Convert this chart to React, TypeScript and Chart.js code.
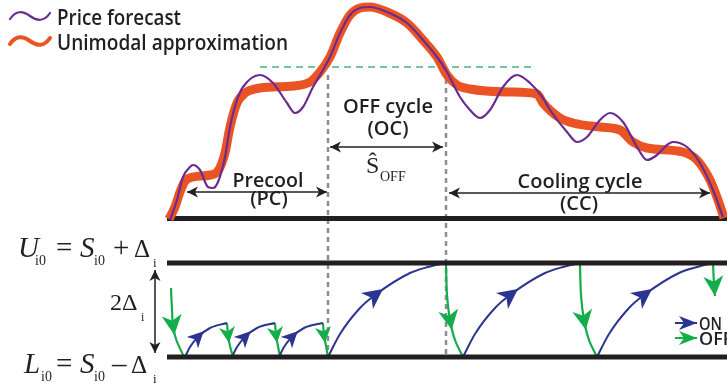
import React, { useEffect, useRef } from "react";
import { Chart, registerables } from "chart.js";
Chart.register(...registerables);

const INK = "#231f20";
const PURPLE = "#6b2c91";
const ORANGE = "#ea5424";
const BLUE = "#2b3590";
const GREEN = "#13ad4b";
const GRAY = "#8d8d8d";
const LIGHT_GREEN = "#74c69b";
const SANS = "'Open Sans', 'Noto Sans', sans-serif";
const SERIF = "'Liberation Serif', 'DejaVu Serif', serif";

// ---- Top panel: price forecast and its unimodal approximation ----
const forecastX = [170,177,183,190,193,200,208,213,218,225,230,237,243,260,273,287,295,303,313,323,330,340,350,360,370,387,407,423,437,447,460,470,480,490,503,517,530,543,550,567,577,587,600,610,623,637,647,657,667,673,687,700,713,723];
const forecastY = [164,184,207,217,219,214,197,196,202,227,257,284,297,309,301,281,271,277,297,314,327,351,369,376,377,372,361,344,327,312,287,274,266,274,297,309,301,286,274,252,242,247,264,271,262,237,224,229,239,242,237,221,194,167];
const approxX = [169,175,180,185,193,210,218,225,230,237,245,260,293,310,320,330,340,350,360,370,387,407,423,437,447,457,470,510,537,543,560,573,600,620,633,647,683,697,710,718,724];
const approxY = [165,177,192,203,207,209,213,231,257,281,291,296,298,302,312,327,351,369,376,377,372,361,344,327,309,299,295,292,290,281,266,261,257,254,242,236,232,224,204,184,166];

const axisX = [167, 727];
const priceBaseY = 165.5;
const thresholdX = [260, 533];
const thresholdY = 317;
const cycleEdgesX = [328, 446];
const guideTopY = [309, 314];
const guideBottomY = 29;

// ---- Bottom panel: deadband hysteresis ----
const upperBandY = 121; // U_i0
const lowerBandY = 27;  // L_i0
const onArcs: number[][][] = [
  [[185,27],[190,37],[198,47],[210,56],[227,61]],
  [[232,27],[237,37],[245,47],[257,56],[275,61]],
  [[279,27],[284,37],[292,47],[304,56],[323,61]],
  [[328,27],[340,50],[360,76],[375,89],[410,111],[428,117],[445,121]],
  [[463,27],[475,50],[495,76],[510,89],[545,111],[563,117],[580,121]],
  [[597,27],[609,50],[629,76],[644,89],[679,111],[697,117],[713,121]],
];
const onHeadAt = [2, 2, 2, 3, 3, 3];
const offDrops: number[][][] = [
  [[171,96],[172,74],[173,59],[176,45],[184,27]],
  [[227,61],[228,49],[230,38],[233,27]],
  [[275,61],[276,49],[278,38],[280,27]],
  [[323,61],[324,49],[326,38],[328,27]],
  [[446,121],[447,89],[450,64],[455,44],[463,27]],
  [[580,121],[581,89],[584,64],[589,44],[597,27]],
  [[713,121],[714,100],[715,88]],
];
const offHeadAt = [2, 1, 1, 1, 2, 2, -1];

// dimension arrows
const precoolSpan = [187, 327]; const precoolY = 192;
const offSpan = [330, 443]; const offY = 237;
const coolSpan = [449, 710]; const coolY = 191;
const bandArrowX = 155; const bandSpan = [114, 31];
const onKeyX = [675, 697]; const onKeyY = 61;
const offKeyY = 46;

// text labels (chart units)
const labels = [
  { text: "OFF cycle", x: 388, y: 271, size: 20, maxW: 90 },
  { text: "(OC)", x: 388, y: 249, size: 20, maxW: 41 },
  { text: "Precool", x: 268, y: 197, size: 20, maxW: 71 },
  { text: "(PC)", x: 269, y: 179, size: 20, maxW: 39 },
  { text: "Cooling cycle", x: 580, y: 196, size: 20, maxW: 126 },
  { text: "(CC)", x: 579, y: 174, size: 20, maxW: 39 },
  { text: "ON", x: 699, y: 54, size: 18, maxW: 23, align: "left" },
  { text: "OFF", x: 699, y: 39, size: 18, maxW: 34, align: "left" },
];
const legendItems = [
  { label: "Price forecast", color: PURPLE, width: 2.2, y: 359, maxW: 124 },
  { label: "Unimodal approximation", color: ORANGE, width: 4, y: 334, maxW: 231 },
];
const mathPieces = [
  { t: "U", x: 18, y: 127, size: 29, italic: true },
  { t: "i0", x: 35, y: 119, size: 14 },
  { t: "=", x: 56, y: 127, size: 29 },
  { t: "S", x: 80, y: 127, size: 29, italic: true },
  { t: "i0", x: 94, y: 119, size: 14 },
  { t: "+", x: 113, y: 127, size: 29 },
  { t: "Δ", x: 134, y: 127, size: 25 },
  { t: "i", x: 153, y: 117, size: 13 },
  { t: "L", x: 24, y: 11, size: 29, italic: true },
  { t: "i0", x: 41, y: 3, size: 14 },
  { t: "=", x: 56, y: 11, size: 29 },
  { t: "S", x: 80, y: 11, size: 29, italic: true },
  { t: "i0", x: 94, y: 3, size: 14 },
  { t: "–", x: 112, y: 11, size: 29 },
  { t: "Δ", x: 131, y: 11, size: 25 },
  { t: "i", x: 153, y: 1, size: 13 },
  { t: "2Δ", x: 110, y: 74, size: 24 },
  { t: "i", x: 141, y: 63, size: 12 },
  { t: "Ŝ", x: 366, y: 211, size: 24 },
  { t: "OFF", x: 380, y: 203, size: 14 },
];

const pts = (xs: number[], ys: number[]) => xs.map((x, i) => ({ x, y: ys[i] }));
const pairs = (p: number[][]) => p.map(([x, y]) => ({ x, y }));

function drawHead(ctx: CanvasRenderingContext2D, x: number, y: number, ang: number, len: number, wid: number, color: string) {
  ctx.save();
  ctx.translate(x, y);
  ctx.rotate(ang);
  ctx.beginPath();
  ctx.moveTo(0, 0);
  ctx.lineTo(-len, -wid);
  ctx.lineTo(-len * 0.72, 0);
  ctx.lineTo(-len, wid);
  ctx.closePath();
  ctx.fillStyle = color;
  ctx.fill();
  ctx.restore();
}

const overlay = {
  id: "overlay",
  afterDatasetsDraw(chart: any) {
    const ctx: CanvasRenderingContext2D = chart.ctx;
    const sx = chart.scales.x, sy = chart.scales.y;
    chart.data.datasets.forEach((ds: any, i: number) => {
      const p = chart.getDatasetMeta(i).data as any[];
      if (!p || !p.length) return;
      const hl = ds.headLen || 10, hw = ds.headWid || 5, col = ds.borderColor;
      (ds.headAt || []).forEach((k: number) => {
        if (k < 0) return;
        const q = p[k];
        let dx: number, dy: number;
        if (q.cp1x !== undefined && Math.hypot(q.cp2x - q.cp1x, q.cp2y - q.cp1y) > 0.5) {
          dx = q.cp2x - q.cp1x; dy = q.cp2y - q.cp1y;
        } else {
          const a = p[Math.max(0, k - 1)], b = p[Math.min(p.length - 1, k + 1)];
          dx = b.x - a.x; dy = b.y - a.y;
        }
        const ang = Math.atan2(dy, dx);
        drawHead(ctx, q.x + Math.cos(ang) * hl * 0.5, q.y + Math.sin(ang) * hl * 0.5, ang, hl, hw, col);
      });
      if (ds.headEnd) {
        const q = p[p.length - 1], a = p[p.length - 2];
        drawHead(ctx, q.x, q.y, Math.atan2(q.y - a.y, q.x - a.x), hl, hw, col);
      }
      if (ds.headStart) {
        const q = p[0], a = p[1];
        drawHead(ctx, q.x, q.y, Math.atan2(q.y - a.y, q.x - a.x), hl, hw, col);
      }
    });
    // text labels
    labels.forEach((l: any) => {
      ctx.save();
      ctx.font = `600 ${l.size}px ${SANS}`;
      ctx.fillStyle = INK;
      ctx.textAlign = l.align || "center";
      ctx.textBaseline = "alphabetic";
      ctx.fillText(l.text, sx.getPixelForValue(l.x), sy.getPixelForValue(l.y), l.maxW);
      ctx.restore();
    });
    mathPieces.forEach((m: any) => {
      ctx.save();
      ctx.font = `${m.italic ? "italic " : ""}${m.size}px ${SERIF}`;
      ctx.fillStyle = INK;
      ctx.textAlign = "left";
      ctx.textBaseline = "alphabetic";
      ctx.fillText(m.t, sx.getPixelForValue(m.x), sy.getPixelForValue(m.y));
      ctx.restore();
    });
    // legend
    legendItems.forEach((it) => {
      const cy = sy.getPixelForValue(it.y + 9);
      const x0 = sx.getPixelForValue(10);
      ctx.save();
      ctx.strokeStyle = it.color;
      ctx.lineWidth = it.width;
      ctx.lineCap = "round";
      ctx.beginPath();
      ctx.moveTo(x0, cy + 3);
      ctx.bezierCurveTo(x0 + 6, cy - 6, x0 + 13, cy - 5, x0 + 20, cy);
      ctx.bezierCurveTo(x0 + 27, cy + 5, x0 + 34, cy + 6, x0 + 40, cy - 3);
      ctx.stroke();
      ctx.font = `600 21px ${SANS}`;
      ctx.fillStyle = INK;
      ctx.textAlign = "left";
      ctx.fillText(it.label, sx.getPixelForValue(57), sy.getPixelForValue(it.y), it.maxW);
      ctx.restore();
    });
  },
};

function buildDatasets() {
  const ds: any[] = [];
  const base = { pointRadius: 0, fill: false, clip: false, borderCapStyle: "butt" };
  ds.push({ ...base, data: pts(forecastX, forecastY), borderColor: PURPLE, borderWidth: 2.2, cubicInterpolationMode: "monotone", order: 0 });
  ds.push({ ...base, data: pts(approxX, approxY), borderColor: ORANGE, borderWidth: 9, cubicInterpolationMode: "monotone", order: 1 });
  ds.push({ ...base, data: pts(thresholdX, [thresholdY, thresholdY]), borderColor: LIGHT_GREEN, borderWidth: 2, borderDash: [7, 5], order: 5 });
  cycleEdgesX.forEach((x, i) => {
    ds.push({ ...base, data: pts([x, x], [guideTopY[i], guideBottomY]), borderColor: GRAY, borderWidth: 2.5, borderDash: [5, 4], order: 6 });
  });
  [priceBaseY, upperBandY, lowerBandY].forEach((y) => {
    ds.push({ ...base, data: pts(axisX, [y, y]), borderColor: INK, borderWidth: 5, order: 2 });
  });
  onArcs.forEach((a, i) => {
    const small = i < 3;
    ds.push({ ...base, data: pairs(a), borderColor: BLUE, borderWidth: 2, cubicInterpolationMode: "monotone", order: 3, headAt: [onHeadAt[i]], headLen: small ? 16 : 20, headWid: small ? 8 : 10 });
  });
  offDrops.forEach((a, i) => {
    const last = i === offDrops.length - 1;
    const small = i >= 1 && i <= 3;
    ds.push({ ...base, data: pairs(a), borderColor: GREEN, borderWidth: 2.2, tension: 0.35, order: 3, headAt: [offHeadAt[i]], headEnd: last, headLen: small ? 16 : 20, headWid: small ? 8 : 10 });
  });
  const dim = { ...base, borderColor: INK, borderWidth: 1.5, headStart: true, headEnd: true, headLen: 11, headWid: 5.5, order: 4 };
  ds.push({ ...dim, data: pts(precoolSpan, [precoolY, precoolY]) });
  ds.push({ ...dim, data: pts(offSpan, [offY, offY]) });
  ds.push({ ...dim, data: pts(coolSpan, [coolY, coolY]) });
  ds.push({ ...dim, data: pts([bandArrowX, bandArrowX], bandSpan) });
  ds.push({ ...base, data: pts(onKeyX, [onKeyY, onKeyY]), borderColor: BLUE, borderWidth: 2, headEnd: true, headLen: 18, headWid: 7, order: 4 });
  ds.push({ ...base, data: pts(onKeyX, [offKeyY, offKeyY]), borderColor: GREEN, borderWidth: 2, headEnd: true, headLen: 18, headWid: 7, order: 4 });
  return ds;
}

export default function App() {
  const ref = useRef<HTMLCanvasElement | null>(null);
  useEffect(() => {
    if (!ref.current) return;
    const chart = new Chart(ref.current, {
      type: "line",
      data: { datasets: buildDatasets() },
      options: {
        responsive: false,
        animation: false,
        devicePixelRatio: 1,
        events: [],
        layout: { padding: 0 },
        scales: {
          x: { type: "linear", min: 0, max: 727, display: false },
          y: { type: "linear", min: 0, max: 384, display: false },
        },
        plugins: { legend: { display: false }, tooltip: { enabled: false } },
      },
      plugins: [overlay],
    } as any);
    return () => chart.destroy();
  }, []);
  return (
    <div style={{ position: "absolute", left: 0, top: 0, width: 727, height: 384, background: "#fff" }}>
      <canvas ref={ref} width={727} height={384} style={{ display: "block" }} />
    </div>
  );
}
